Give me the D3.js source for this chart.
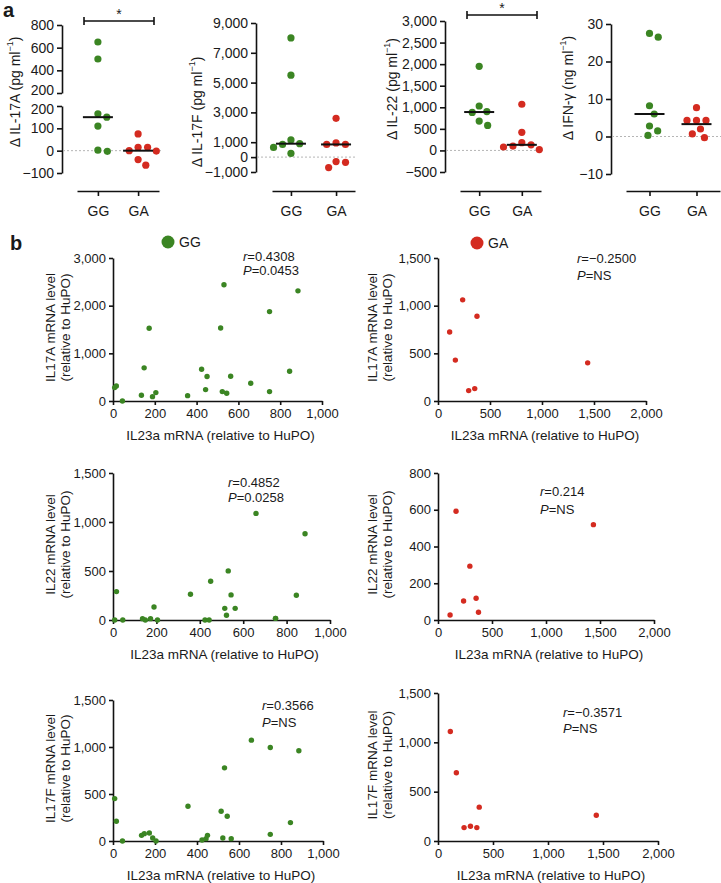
<!DOCTYPE html>
<html>
<head>
<meta charset="utf-8">
<script src="https://cdn.jsdelivr.net/npm/d3@7"></script>
<style>
  body { margin: 0; background: #fff; }
  text { font-family: "Liberation Sans", Arial, sans-serif; fill: #1a1a1a; }
</style>
</head>
<body>
<div id="chart"></div>
<script>
const green = "#3b8523";
const red = "#d42b20";

// ---- panel a: cytokine dot plots ----
const groups = ["GG", "GA"];

const il17aGG = [650, 500, 165, 150, 110, -3, 2];
const il17aGA = [75, 15, 15, 0, -2, -40, -65];
const il17aLines = [150, 0];
const il17aTicksUpper = [200, 400, 600, 800];
const il17aTicksLower = [-100, 0, 100, 200];

const il17fGG = [8000, 5500, 1150, 900, 850, 650, 250];
const il17fGA = [2600, 950, 850, 850, -300, -350, -700];
const il17fLines = [900, 850];
const il17fTicks = [-1000, 0, 1000, 3000, 5000, 7000, 9000];

const il22GG = [1950, 1030, 900, 880, 680, 580];
const il22GA = [1070, 420, 180, 130, 100, 80, 20];
const il22Lines = [890, 130];
const il22Ticks = [-500, 0, 500, 1000, 1500, 2000, 2500, 3000];

const ifngGG = [27.5, 26.5, 8.2, 6, 2.8, 1.5, 0.3];
const ifngGA = [7.7, 4.3, 4.3, 4.3, 2, 0.7, -0.3];
const ifngLines = [6, 3.3];
const ifngTicks = [-10, 0, 10, 20, 30];

// ---- panel b: correlations with IL23a ----
const ggIL23a = [8, 16, 45, 136, 149, 173, 189, 205, 357, 424, 443, 450, 515, 523, 531, 544, 563, 659, 749, 749, 845, 885];
const ggIL17A = [281, 316, 0, 120, 695, 1525, 91, 176, 112, 667, 239, 513, 1532, 197, 2438, 162, 520, 372, 1876, 197, 625, 2311];
const ggIL22  = [0, 290, 0, 14, 0, 14, 133, 0, 262, 0, 0, 395, 119, 48, 501, 256, 119, 1088, 17, 17, 252, 880];
const ggIL17F = [451, 210, 0, 60, 78, 85, 32, 0, 370, 10, 25, 60, 316, 32, 778, 263, 25, 1073, 995, 71, 196, 960];

const gaIL23a = [112, 167, 237, 295, 353, 375, 1439];
const gaIL17A = [724, 429, 1061, 109, 130, 889, 400];
const gaIL22  = [27, 592, 103, 293, 118, 42, 519];
const gaIL17F = [1110, 692, 136, 149, 136, 343, 261];

const ggXTicks = [0, 200, 400, 600, 800, 1000];
const gaXTicks = [0, 500, 1000, 1500, 2000];
const ticks3000 = [0, 1000, 2000, 3000];
const ticks1500 = [0, 500, 1000, 1500];
const ticks800 = [0, 200, 400, 600, 800];

const statsR = ["0.4308", "\u22120.2500", "0.4852", "0.214", "0.3566", "\u22120.3571"];
const statsP = ["0.0453", "NS", "0.0258", "NS", "NS", "NS"];

const W = 721, H = 883;
const svg = d3.select("#chart").append("svg")
    .attr("width", W)
    .attr("height", H);

const fmt = d3.format(",");

function styleAxis(g) {
    g.selectAll(".domain").attr("stroke", "#111").attr("stroke-width", 1.6);
    g.selectAll(".tick line").attr("stroke", "#111").attr("stroke-width", 1.6);
}

// simple beeswarm: smallest horizontal offset that avoids overlap
function swarm(ys, d) {
    const placed = [];
    const order = d3.range(ys.length).sort((a, b) => ys[a] - ys[b]);
    const out = new Array(ys.length);
    order.forEach(i => {
        const y = ys[i];
        const cands = [0];
        placed.forEach(p => {
            const dy = Math.abs(p.y - y);
            if (dy < d) {
                const dx = Math.sqrt(d * d - dy * dy);
                cands.push(p.x + dx, p.x - dx);
            }
        });
        cands.sort((a, b) => Math.abs(a) - Math.abs(b) || b - a);
        const x = cands.find(c => placed.every(p => (p.x - c) ** 2 + (p.y - y) ** 2 >= d * d - 0.01));
        placed.push({x: x, y: y});
        out[i] = x;
    });
    return out;
}

// panel letters
svg.append("text").attr("x", 3).attr("y", 17).attr("font-size", 20).attr("font-weight", "bold").text("a");
svg.append("text").attr("x", 10).attr("y", 250).attr("font-size", 20).attr("font-weight", "bold").text("b");

const panelA = [
    {gg: il17aGG, ga: il17aGA, lines: il17aLines, name: "IL-17A", unit: "pg", axisX: 62,
     segments: [{domain: [200, 800], range: [93, 25], ticks: il17aTicksUpper},
                {domain: [-100, 200], range: [173, 106], ticks: il17aTicksLower}],
     cat: [77, 159], pad: 0.52, labelX: 15, labelY: 92, sig: [84, 154, 21]},
    {gg: il17fGG, ga: il17fGA, lines: il17fLines, name: "IL-17F", unit: "pg", axisX: 256,
     segments: [{domain: [-1000, 9000], range: [172, 23], ticks: il17fTicks}],
     cat: [272, 355], pad: 0.42, labelX: 197, labelY: 112, sig: null},
    {gg: il22GG, ga: il22GA, lines: il22Lines, name: "IL-22", unit: "pg", axisX: 445,
     segments: [{domain: [-500, 3000], range: [172, 21], ticks: il22Ticks}],
     cat: [460, 541], pad: 0.45, labelX: 392, labelY: 89, sig: [467, 537, 15]},
    {gg: ifngGG, ga: ifngGA, lines: ifngLines, name: "IFN-\u03b3", unit: "ng", axisX: 611,
     segments: [{domain: [-10, 30], range: [174, 24], ticks: ifngTicks}],
     cat: [626, 720], pad: 0.5, labelX: 568, labelY: 88, sig: null}
];

panelA.forEach(p => {
    const g = svg.append("g");
    const scales = p.segments.map(s => d3.scaleLinear().domain(s.domain).range(s.range));
    const yOf = v => {
        if (scales.length > 1 && v > p.segments[1].domain[1]) return scales[0](v);
        return scales[scales.length - 1](v);
    };

    // y axis (possibly broken)
    p.segments.forEach((s, i) => {
        const ax = g.append("g")
            .attr("transform", `translate(${p.axisX},0)`)
            .call(d3.axisLeft(scales[i]).tickValues(s.ticks).tickFormat(fmt)
                .tickSize(5).tickSizeOuter(0).tickPadding(3));
        ax.selectAll("text").attr("font-size", 14).attr("fill", "#1a1a1a")
            .style("font-family", "'Liberation Sans', Arial, sans-serif");
        // the two "200" labels of the broken axis sit very close: nudge them apart
        if (p.segments.length > 1) {
            ax.selectAll(".tick text").filter(d => d === 200).attr("dy", i === 0 ? "0.1em" : "0.5em");
        }
        styleAxis(ax);
    });

    // group axis
    const x = d3.scalePoint().domain(groups).range(p.cat).padding(p.pad);
    const xa = g.append("g")
        .attr("transform", "translate(0,191)")
        .call(d3.axisBottom(x).tickSize(5).tickSizeOuter(0).tickPadding(10));
    xa.selectAll("text").attr("font-size", 14).attr("fill", "#1a1a1a")
        .style("font-family", "'Liberation Sans', Arial, sans-serif");
    styleAxis(xa);

    // zero reference
    g.append("line")
        .attr("x1", p.axisX + 1).attr("x2", p.cat[1] + 2)
        .attr("y1", yOf(0)).attr("y2", yOf(0))
        .attr("stroke", "#b5b5b5").attr("stroke-width", 1)
        .attr("stroke-dasharray", "2,2");

    // dots
    [[p.gg, green], [p.ga, red]].forEach(([vals, col], gi) => {
        const ys = vals.map(yOf);
        const offs = swarm(ys, 9.5);
        g.selectAll(null).data(vals).join("circle")
            .attr("cx", (d, i) => x(groups[gi]) + offs[i])
            .attr("cy", (d, i) => ys[i])
            .attr("r", 3.6)
            .attr("fill", col);
        g.append("line")
            .attr("x1", x(groups[gi]) - 15).attr("x2", x(groups[gi]) + 15)
            .attr("y1", yOf(p.lines[gi])).attr("y2", yOf(p.lines[gi]))
            .attr("stroke", "#111").attr("stroke-width", 2);
    });

    // y label
    const lab = g.append("text")
        .attr("transform", `translate(${p.labelX},${p.labelY}) rotate(-90)`)
        .attr("text-anchor", "middle")
        .attr("dominant-baseline", "central")
        .attr("font-size", 14);
    lab.append("tspan").text(`\u0394 ${p.name} (${p.unit} ml`);
    lab.append("tspan").attr("font-size", 9).attr("dy", -5).text("\u22121");
    lab.append("tspan").attr("dy", 5).text(")");

    // significance bracket
    if (p.sig) {
        const [x1, x2, y] = p.sig;
        g.append("path")
            .attr("d", `M${x1},${y - 4}V${y + 4}M${x1},${y}H${x2}M${x2},${y - 4}V${y + 4}`)
            .attr("fill", "none").attr("stroke", "#111").attr("stroke-width", 1.6);
        g.append("text").attr("x", (x1 + x2) / 2).attr("y", y - 2)
            .attr("text-anchor", "middle").attr("font-size", 14).text("*");
    }
});

// ---- panel b ----
const panelB = [
    {xs: ggIL23a, ys: ggIL17A, col: green, gene: "IL17A", xr: [113, 322], xd: [0, 1000], xt: ggXTicks,
     yr: [401, 258], yd: [0, 3000], yt: ticks3000, labX: [50, 65], st: [243, 256, 14]},
    {xs: gaIL23a, ys: gaIL17A, col: red, gene: "IL17A", xr: [438, 646], xd: [0, 2000], xt: gaXTicks,
     yr: [401, 258], yd: [0, 1500], yt: ticks1500, labX: [372, 387], st: [577, 258, 17]},
    {xs: ggIL23a, ys: ggIL22, col: green, gene: "IL22", xr: [113, 330], xd: [0, 1000], xt: ggXTicks,
     yr: [620, 473], yd: [0, 1500], yt: ticks1500, labX: [50, 65], st: [228, 482, 15]},
    {xs: gaIL23a, ys: gaIL22, col: red, gene: "IL22", xr: [438, 654], xd: [0, 2000], xt: gaXTicks,
     yr: [620, 473], yd: [0, 800], yt: ticks800, labX: [372, 387], st: [540, 491, 18]},
    {xs: ggIL23a, ys: ggIL17F, col: green, gene: "IL17F", xr: [113, 323], xd: [0, 1000], xt: ggXTicks,
     yr: [841, 700], yd: [0, 1500], yt: ticks1500, labX: [50, 65], st: [262, 705, 17]},
    {xs: gaIL23a, ys: gaIL17F, col: red, gene: "IL17F", xr: [438, 658], xd: [0, 2000], xt: gaXTicks,
     yr: [841, 693], yd: [0, 1500], yt: ticks1500, labX: [372, 387], st: [563, 712, 16]}
];

panelB.forEach((p, k) => {
    const g = svg.append("g");
    const x = d3.scaleLinear().domain(p.xd).range(p.xr);
    const y = d3.scaleLinear().domain(p.yd).range(p.yr);

    const xa = g.append("g")
        .attr("transform", `translate(0,${p.yr[0]})`)
        .call(d3.axisBottom(x).tickValues(p.xt).tickFormat(fmt).tickSize(4).tickSizeOuter(0).tickPadding(4));
    const ya = g.append("g")
        .attr("transform", `translate(${p.xr[0]},0)`)
        .call(d3.axisLeft(y).tickValues(p.yt).tickFormat(fmt).tickSize(4).tickSizeOuter(0).tickPadding(3));
    [xa, ya].forEach(a => {
        a.selectAll("text").attr("font-size", 13).attr("fill", "#1a1a1a")
            .style("font-family", "'Liberation Sans', Arial, sans-serif");
        styleAxis(a);
    });

    g.selectAll(null).data(p.xs).join("circle")
        .attr("cx", d => x(d))
        .attr("cy", (d, i) => y(p.ys[i]))
        .attr("r", 2.7)
        .attr("fill", p.col);

    // axis titles
    g.append("text")
        .attr("x", (p.xr[0] + p.xr[1]) / 2 + 3).attr("y", p.yr[0] + 39)
        .attr("text-anchor", "middle").attr("font-size", 13.5)
        .text("IL23a mRNA (relative to HuPO)");
    const yc = (p.yr[0] + p.yr[1]) / 2 - 2;
    [`${p.gene} mRNA level`, "(relative to HuPO)"].forEach((t, i) => {
        g.append("text")
            .attr("transform", `translate(${p.labX[i]},${yc}) rotate(-90)`)
            .attr("text-anchor", "middle").attr("dominant-baseline", "central")
            .attr("font-size", 13.5).text(t);
    });

    // stats
    const [sx, sy, dy] = p.st;
    const r = g.append("text").attr("x", sx).attr("y", sy + 5).attr("font-size", 13);
    r.append("tspan").attr("font-style", "italic").text("r");
    r.append("tspan").text("=" + statsR[k]);
    const pt = g.append("text").attr("x", sx).attr("y", sy + dy + 5).attr("font-size", 13);
    pt.append("tspan").attr("font-style", "italic").text("P");
    pt.append("tspan").text("=" + statsP[k]);
});

// legend
[["GG", green, 168, 242], ["GA", red, 477, 243]].forEach(([t, c, lx, ly]) => {
    svg.append("circle").attr("cx", lx).attr("cy", ly).attr("r", 6.5).attr("fill", c);
    svg.append("text").attr("x", lx + 11).attr("y", ly + 5).attr("font-size", 14).text(t);
});
</script>
</body>
</html>
